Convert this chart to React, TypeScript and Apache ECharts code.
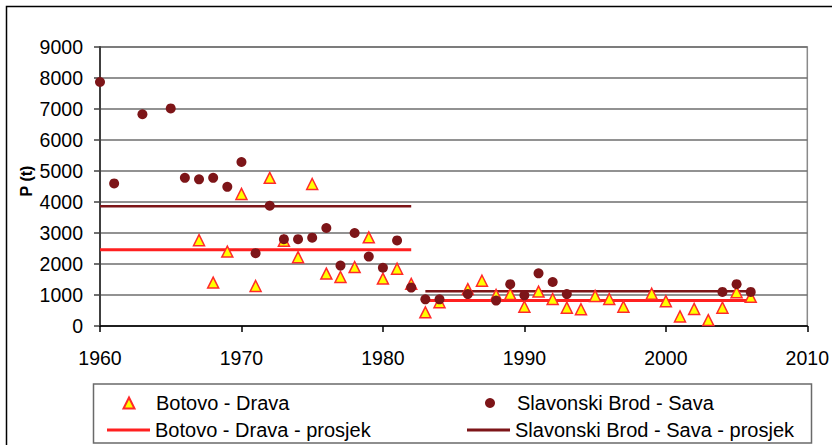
import React, { useEffect, useRef } from "react";
import * as echarts from "echarts";

// Annual phosphorus load, P (t)
const botovoYears = [
  1967, 1968, 1969, 1970, 1971, 1972, 1973, 1974, 1975, 1976, 1977, 1978, 1979,
  1980, 1981, 1982, 1983, 1984, 1986, 1987, 1988, 1989, 1990, 1991, 1992, 1993,
  1994, 1995, 1996, 1997, 1999, 2000, 2001, 2002, 2003, 2004, 2005, 2006,
];
const botovoValues = [
  2770, 1400, 2400, 4260, 1290, 4780, 2750, 2220, 4580, 1690, 1580, 1900, 2860,
  1530, 1850, 1360, 440, 770, 1190, 1460, 1000, 1030, 620, 1110, 870, 590,
  540, 970, 870, 620, 1040, 800, 310, 550, 190, 590, 1090, 940,
];

const brodYears = [
  1960, 1961, 1963, 1965, 1966, 1967, 1968, 1969, 1970, 1971, 1972, 1973, 1974,
  1975, 1976, 1977, 1978, 1979, 1980, 1981, 1982, 1983, 1984, 1986, 1988, 1989,
  1990, 1991, 1992, 1993, 2004, 2005, 2006,
];
const brodValues = [
  7870, 4600, 6830, 7020, 4780, 4730, 4780, 4490, 5290, 2350, 3880, 2800, 2800,
  2850, 3160, 1950, 3000, 2240, 1880, 2760, 1240, 860, 860, 1030, 820, 1350,
  990, 1700, 1420, 1030, 1100, 1350, 1100,
];

// Period averages (prosjek)
const botovoAvgFrom = [1960, 1983];
const botovoAvgTo = [1982, 2006];
const botovoAvgValues = [2460, 820];

const brodAvgFrom = [1960, 1983];
const brodAvgTo = [1982, 2006];
const brodAvgValues = [3860, 1120];

const xTicks = { min: 1960, max: 2010, interval: 10 };
const yTicks = { min: 0, max: 9000, interval: 1000 };

const NAME_BOTOVO = "Botovo - Drava";
const NAME_BROD = "Slavonski Brod - Sava";
const NAME_BOTOVO_AVG = "Botovo - Drava - prosjek";
const NAME_BROD_AVG = "Slavonski Brod - Sava - prosjek";

const RED = "#ff2020";
const DARK_RED = "#7d1518";
const FONT = "'Liberation Sans', Arial, sans-serif";

function pairs(xs: number[], ys: number[]) {
  return xs.map((x, i) => [x, ys[i]]);
}

function segments(from: number[], to: number[], vals: number[]) {
  const out: (number | string)[][] = [];
  vals.forEach((v, i) => {
    if (i > 0) out.push([(to[i - 1] + from[i]) / 2, "-"]);
    out.push([from[i], v]);
    out.push([to[i], v]);
  });
  return out;
}

export default function App() {
  const ref = useRef<HTMLDivElement>(null);

  useEffect(() => {
    if (!ref.current) return;
    const chart = echarts.init(ref.current, null, { renderer: "svg" });

    const text = (padLeft: number) => ({
      fontSize: 20,
      lineHeight: 20,
      color: "#000",
      fontFamily: FONT,
      padding: [0, 0, 0, padLeft],
    });

    // One legend per entry so symbol markers and line keys share the text column
    const markerLegend = (name: string, icon: string, size: number, left: number, padLeft: number) => ({
      data: [{ name, icon }],
      left,
      top: 393,
      padding: 0,
      itemWidth: size,
      itemHeight: size,
      textStyle: text(padLeft),
    });
    const lineLegend = (name: string, left: number) => ({
      data: [{ name, icon: "rect" }],
      left,
      top: 420,
      padding: 0,
      itemWidth: 43,
      itemHeight: 3,
      textStyle: text(0),
    });

    chart.setOption({
      animation: false,
      backgroundColor: "#fff",
      grid: {
        left: 100,
        top: 47,
        width: 708,
        height: 279,
        show: true,
        borderColor: "#8a8a8a",
        borderWidth: 1.5,
      },
      xAxis: {
        type: "value",
        min: xTicks.min,
        max: xTicks.max,
        interval: xTicks.interval,
        axisLine: { show: true, onZero: false, lineStyle: { color: "#000", width: 1.5 } },
        axisTick: { show: true, length: 6, lineStyle: { color: "#000", width: 1.5 } },
        axisLabel: {
          fontSize: 19.5,
          margin: 22,
          color: "#000",
          fontFamily: FONT,
          formatter: (v: number) => String(v),
        },
        splitLine: { show: false },
      },
      yAxis: {
        type: "value",
        min: yTicks.min,
        max: yTicks.max,
        interval: yTicks.interval,
        axisLine: { show: true, lineStyle: { color: "#404040", width: 2 } },
        axisTick: { show: true, length: 6, lineStyle: { color: "#404040", width: 1.5 } },
        axisLabel: {
          fontSize: 19.5,
          margin: 17,
          color: "#000",
          fontFamily: FONT,
          formatter: (v: number) => String(v),
        },
        splitLine: { show: true, lineStyle: { color: "#6e6e6e", width: 1.5 } },
      },
      legend: [
        markerLegend(NAME_BOTOVO, "triangle", 11, 122.5, 16.5),
        lineLegend(NAME_BOTOVO_AVG, 107),
        markerLegend(NAME_BROD, "circle", 10, 485, 17),
        lineLegend(NAME_BROD_AVG, 467),
      ],
      graphic: [
        {
          type: "rect",
          shape: { x: 6.5, y: 6.5, width: 840, height: 460 },
          style: { fill: "none", stroke: "#000", lineWidth: 1.5 },
          silent: true,
          z: -10,
        },
        {
          type: "rect",
          shape: { x: 93.5, y: 384, width: 718, height: 59 },
          style: { fill: "none", stroke: "#6a6a6a", lineWidth: 1.5 },
          silent: true,
        },
        {
          type: "text",
          x: 26,
          y: 181,
          rotation: Math.PI / 2,
          style: {
            text: "P (t)",
            fontSize: 16,
            fontWeight: "bold",
            fontFamily: FONT,
            fill: "#000",
            textAlign: "center",
            textVerticalAlign: "middle",
          },
          silent: true,
        },
      ],
      series: [
        {
          name: NAME_BOTOVO_AVG,
          type: "line",
          symbol: "none",
          showSymbol: false,
          data: segments(botovoAvgFrom, botovoAvgTo, botovoAvgValues),
          lineStyle: { color: RED, width: 3 },
          itemStyle: { color: RED },
          z: 2,
        },
        {
          name: NAME_BROD_AVG,
          type: "line",
          symbol: "none",
          showSymbol: false,
          data: segments(brodAvgFrom, brodAvgTo, brodAvgValues),
          lineStyle: { color: DARK_RED, width: 2.5 },
          itemStyle: { color: DARK_RED },
          z: 2,
        },
        {
          name: NAME_BOTOVO,
          type: "scatter",
          symbol: "triangle",
          symbolSize: 11,
          data: pairs(botovoYears, botovoValues),
          itemStyle: { color: "#ffff00", borderColor: "#ff2a2a", borderWidth: 1.5, opacity: 1 },
          z: 3,
        },
        {
          name: NAME_BROD,
          type: "scatter",
          symbol: "circle",
          symbolSize: 10,
          data: pairs(brodYears, brodValues),
          itemStyle: { color: DARK_RED, opacity: 1 },
          z: 4,
        },
      ],
    });

    return () => chart.dispose();
  }, []);

  return (
    <div
      ref={ref}
      style={{ position: "absolute", left: 0, top: 0, width: 832, height: 445, background: "#fff" }}
    />
  );
}
